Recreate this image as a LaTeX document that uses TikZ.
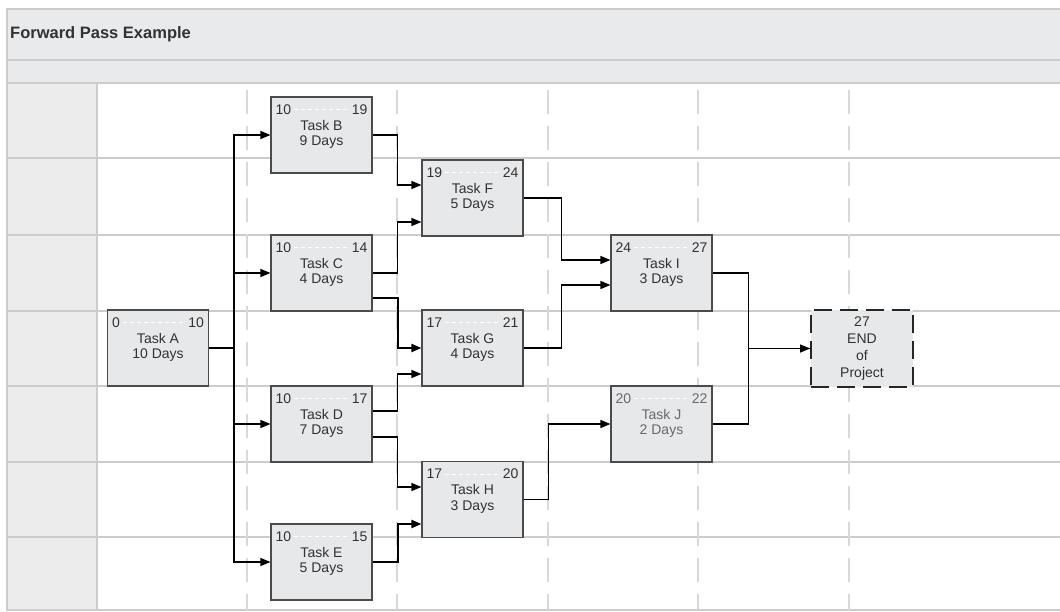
\documentclass[tikz,border=0pt]{standalone}
\usepackage{fontspec}
\setmainfont{Liberation Sans}
\usetikzlibrary{arrows.meta,calc}
\definecolor{bandfill}{RGB}{233,234,236}
\definecolor{colfill}{RGB}{236,236,237}
\definecolor{laneline}{RGB}{204,204,204}
\definecolor{vdash}{RGB}{216,216,216}
\definecolor{boxfill}{RGB}{231,232,234}
\definecolor{boxline}{RGB}{75,75,75}
\definecolor{txt}{RGB}{50,50,50}
\definecolor{txtlight}{RGB}{105,105,105}
\tikzset{
  lane/.style={draw=laneline,line width=2.5pt},
  vguide/.style={draw=vdash,line width=2.2pt,dash pattern=on 24pt off 12pt},
  taskbox/.style={draw=boxline,line width=1.1pt,fill=boxfill,minimum width=101pt,minimum height=76pt,inner sep=0pt},
  endbox/.style={draw=black!85,line width=1.8pt,dash pattern=on 18pt off 8pt,fill=boxfill,minimum width=102pt,minimum height=77pt,inner sep=0pt},
  tasktext/.style={font=\fontsize{14}{16}\selectfont,inner sep=0pt},
  conn/.style={draw=black,line width=1.3pt,-{Triangle[length=10pt,width=8pt]}},
  connplain/.style={draw=black,line width=1.3pt},
  connbold/.style={draw=black,line width=2pt,-{Triangle[length=10pt,width=8pt]}},
  numline/.style={draw=white,line width=0.8pt,dash pattern=on 4pt off 3pt}
}
\newcommand{\mytask}[7]{%
  \node[taskbox] (#1) at #2 {};
  \node[tasktext,text=#7,anchor=west] (#1es) at ([xshift=5pt,yshift=-13pt]#1.north west) {#3};
  \node[tasktext,text=#7,anchor=east] (#1ef) at ([xshift=-5pt,yshift=-13pt]#1.north east) {#4};
  \draw[numline] ([xshift=3pt]#1es.east) -- ([xshift=-3pt]#1ef.west);
  \node[tasktext,text=#7] (#1t) at ([yshift=-29pt]#1.north) {#5};
  \node[tasktext,text=#7] (#1d) at ([yshift=-46pt]#1.north) {#6};
}
\begin{document}
\begin{tikzpicture}[x=1pt,y=-1pt]
\useasboundingbox (0,0) rectangle (1060,612);
% background bands
\fill[bandfill] (7,9) rectangle (1060,83);
\fill[colfill] (7,83) rectangle (97,610);
\fill[white] (97,83) rectangle (1060,610);
\draw[lane] (1060,9) -- (7,9) -- (7,610) -- (1060,610);
\draw[lane] (7,60) -- (1060,60);
\draw[lane] (7,83) -- (1060,83);
\draw[lane] (97,83) -- (97,610);
\foreach \yy in {158,235,311,386,462,537} \draw[lane] (7,\yy) -- (1060,\yy);
\foreach \xx in {247,397,548,698,849} \draw[vguide] (\xx,90) -- (\xx,610);
\node[anchor=west,text=txt,font=\fontsize{16.5}{20}\selectfont\bfseries,inner sep=0pt] (title) at (10,34) {Forward Pass Example};
% tasks
\mytask{A}{(158,348)}{0}{10}{Task A}{10 Days}{txt}
\mytask{B}{(321.5,135)}{10}{19}{Task B}{9 Days}{txt}
\mytask{C}{(321.5,273)}{10}{14}{Task C}{4 Days}{txt}
\mytask{D}{(321.5,424)}{10}{17}{Task D}{7 Days}{txt}
\mytask{E}{(321.5,562)}{10}{15}{Task E}{5 Days}{txt}
\mytask{F}{(472.5,198)}{19}{24}{Task F}{5 Days}{txt}
\mytask{G}{(472.5,348)}{17}{21}{Task G}{4 Days}{txt}
\mytask{H}{(472.5,499.5)}{17}{20}{Task H}{3 Days}{txt}
\mytask{I}{(661.5,273)}{24}{27}{Task I}{3 Days}{txt}
\mytask{J}{(661.5,424)}{20}{22}{Task J}{2 Days}{txtlight}
\node[endbox,text=txt,font=\fontsize{14}{17}\selectfont,align=center] (END) at (862,348.5) {27\\END\\of\\Project};
% connectors
\draw[connplain] (A.east) -- ++(25,0) coordinate (bus);
\draw[conn] (bus) |- (B.west);
\draw[conn] (bus) |- (C.west);
\draw[conn] (bus) |- (D.west);
\draw[conn] (bus) |- (E.west);
\draw[conn] (B.east) -- ++(25,0) |- ([yshift=13pt]F.west);
\draw[conn] (C.east) -- ++(25,0) |- ([yshift=-24pt]F.west);
\draw[connbold] ([yshift=-25pt]C.east) -- ++(25,0) |- (G.west);
\draw[conn] ([yshift=13pt]D.east) -- ++(25,0) |- ([yshift=-26pt]G.west);
\draw[conn] ([yshift=-13pt]D.east) -- ++(25,0) |- ([yshift=12.5pt]H.west);
\draw[connbold] (E.east) -- ++(25,0) |- ([yshift=-24.5pt]H.west);
\draw[conn] (F.east) -- ++(38,0) |- ([yshift=13pt]I.west);
\draw[conn] (G.east) -- ++(38,0) |- ([yshift=-12pt]I.west);
\draw[conn] (H.east) -- ++(25,0) |- (J.west);
\draw[conn] (I.east) -- ++(36,0) |- (END.west);
\draw[connplain] (J.east) -- ++(36,0) |- (END.west);
\end{tikzpicture}
\end{document}
